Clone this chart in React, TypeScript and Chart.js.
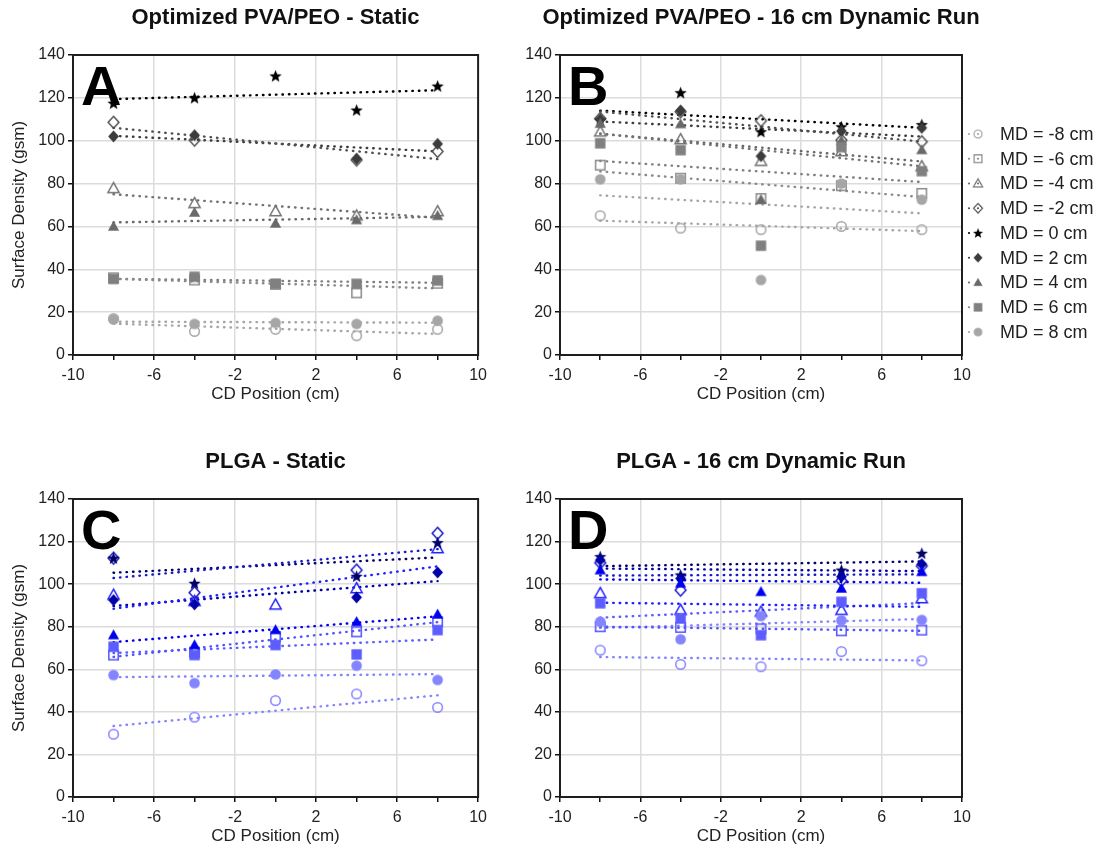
import React, { useEffect, useRef } from 'react';
import { Chart, registerables } from 'chart.js';
Chart.register(...registerables);

const FONT = '"Liberation Sans", Arial, Helvetica, sans-serif';

// ---------- shared categories / labels ----------
const CD_POSITIONS = [-8, -4, 0, 4, 8];
const MD_LABELS = ['MD = -8 cm', 'MD = -6 cm', 'MD = -4 cm', 'MD = -2 cm', 'MD = 0 cm', 'MD = 2 cm', 'MD = 4 cm', 'MD = 6 cm', 'MD = 8 cm'];
const X_LABELED_TICKS = [-10, -6, -2, 2, 6, 10];
const X_GRID_TICKS = [-6, -2, 2, 6];
const Y_TICK_STEP = 20;
const X_TITLE = 'CD Position (cm)';
const Y_TITLE = 'Surface Density (gsm)';
const MARKER_SHAPES = ['circle', 'square', 'triangle', 'diamond', 'star', 'diamond', 'triangle', 'square', 'circle'];
const MARKER_FILLED = [false, false, false, false, true, true, true, true, true];
const GRAY_COLORS = ['#a6a6a6', '#8a8a8a', '#727272', '#505050', '#000000', '#3c3c3c', '#696969', '#808080', '#a6a6a6'];
const BLUE_COLORS = ['#8484ff', '#5252ff', '#1f1fff', '#1818c8', '#000066', '#0000a8', '#0000f0', '#5c5cff', '#8484ff'];

// ---------- Panel A: Optimized PVA/PEO - Static ----------
const pvaStatic_m8 = [17, 11, 12, 9, 12];
const pvaStatic_m6 = [36, 35, 33, 29, 33.5];
const pvaStatic_m4 = [77.8, 70.8, 67, 65, 67];
const pvaStatic_m2 = [108.6, 100.3, null, 91, 95];
const pvaStatic_0 = [117.5, 120, 130.2, 114.3, 125.5];
const pvaStatic_p2 = [102, 102.6, null, 91.5, 98.5];
const pvaStatic_p4 = [60, 66.5, 61.4, 63, 65];
const pvaStatic_p6 = [35.5, 36.5, 33.2, 33.2, 34.8];
const pvaStatic_p8 = [16.6, 14.5, 15, 14.5, 16];

// ---------- Panel B: Optimized PVA/PEO - 16 cm Dynamic Run ----------
const pvaDyn_m8 = [65, 59.2, 58.5, 60, 58.5];
const pvaDyn_m6 = [88.6, 82.5, 73, 79, 75.4];
const pvaDyn_m4 = [104.2, 100.6, 90.5, 95, 88];
const pvaDyn_m2 = [110.4, 113.5, 109.3, 100.3, 99.5];
const pvaDyn_0 = [109.6, 122.4, 104.2, 106.5, 107.5];
const pvaDyn_p2 = [110, 114, 92.8, 104.5, 106];
const pvaDyn_p4 = [108, 107.8, 72.5, 100, 95.7];
const pvaDyn_p6 = [98.8, 95.6, 51, 97, 85.8];
const pvaDyn_p8 = [82, 82, 35, 80, 72.5];

// ---------- Panel C: PLGA - Static ----------
const plgaStatic_m8 = [29.5, 37.5, 45.3, 48.4, 42.1];
const plgaStatic_m6 = [66.7, 68, 75.4, 77.6, 82.3];
const plgaStatic_m4 = [94.9, 92, 90.3, 98, 116.8];
const plgaStatic_m2 = [112.2, 96, null, 106.6, 123.9];
const plgaStatic_0 = [112.2, 100.4, null, 103.7, 119.5];
const plgaStatic_p2 = [92.5, 90.5, null, 93.8, 105.5];
const plgaStatic_p4 = [76.1, 71.4, 78.5, 82.3, 85.8];
const plgaStatic_p6 = [70.6, 66.7, 71.4, 67, 78.4];
const plgaStatic_p8 = [57.3, 53.5, 57.6, 61.7, 55];

// ---------- Panel D: PLGA - 16 cm Dynamic Run ----------
const plgaDyn_m8 = [69, 62.3, 61.2, 68.3, 64];
const plgaDyn_m6 = [80, 79.7, 79, 78.1, 78.4];
const plgaDyn_m4 = [95.7, 87.8, 87, 87.8, 93.3];
const plgaDyn_m2 = [110, 97.2, null, 101.6, 108.5];
const plgaDyn_0 = [112.9, 104.3, null, 106.6, 114.5];
const plgaDyn_p2 = [111.3, 102.7, null, 103.5, 109.4];
const plgaDyn_p4 = [106.6, 100.4, 96.4, 98, 105.8];
const plgaDyn_p6 = [91, 84, 76, 91.7, 95.7];
const plgaDyn_p8 = [82.4, 74.1, 85, 83, 83.2];

const PANEL_A = [pvaStatic_m8, pvaStatic_m6, pvaStatic_m4, pvaStatic_m2, pvaStatic_0, pvaStatic_p2, pvaStatic_p4, pvaStatic_p6, pvaStatic_p8];
const PANEL_B = [pvaDyn_m8, pvaDyn_m6, pvaDyn_m4, pvaDyn_m2, pvaDyn_0, pvaDyn_p2, pvaDyn_p4, pvaDyn_p6, pvaDyn_p8];
const PANEL_C = [plgaStatic_m8, plgaStatic_m6, plgaStatic_m4, plgaStatic_m2, plgaStatic_0, plgaStatic_p2, plgaStatic_p4, plgaStatic_p6, plgaStatic_p8];
const PANEL_D = [plgaDyn_m8, plgaDyn_m6, plgaDyn_m4, plgaDyn_m2, plgaDyn_0, plgaDyn_p2, plgaDyn_p4, plgaDyn_p6, plgaDyn_p8];

// ---------- helpers ----------
function makeMarker(shape: string, color: string, filled: boolean, k = 1): HTMLCanvasElement {
  const s = Math.ceil(17 * k);
  const c = document.createElement('canvas');
  c.width = s;
  c.height = s;
  const ctx = c.getContext('2d')!;
  const cx = s / 2;
  const cy = s / 2;
  ctx.beginPath();
  if (shape === 'circle') {
    ctx.arc(cx, cy, (filled ? 5.3 : 4.8) * k, 0, Math.PI * 2);
  } else if (shape === 'square') {
    const h = (filled ? 5.2 : 4.7) * k;
    ctx.rect(cx - h, cy - h, 2 * h, 2 * h);
  } else if (shape === 'triangle') {
    ctx.moveTo(cx, cy - 5.8 * k);
    ctx.lineTo(cx + 5.6 * k, cy + 4.2 * k);
    ctx.lineTo(cx - 5.6 * k, cy + 4.2 * k);
    ctx.closePath();
  } else if (shape === 'diamond') {
    ctx.moveTo(cx, cy - 6 * k);
    ctx.lineTo(cx + 5.4 * k, cy);
    ctx.lineTo(cx, cy + 6 * k);
    ctx.lineTo(cx - 5.4 * k, cy);
    ctx.closePath();
  } else if (shape === 'star') {
    for (let i = 0; i < 10; i++) {
      const r = (i % 2 === 0 ? 6.5 : 2.8) * k;
      const a = -Math.PI / 2 + (i * Math.PI) / 5;
      const px = cx + r * Math.cos(a);
      const py = cy + 0.5 + r * Math.sin(a);
      if (i === 0) ctx.moveTo(px, py);
      else ctx.lineTo(px, py);
    }
    ctx.closePath();
  }
  if (filled) {
    ctx.fillStyle = color;
    ctx.fill();
  } else {
    ctx.lineWidth = 1.5 * k;
    ctx.strokeStyle = color;
    ctx.stroke();
  }
  return c;
}

function trendLine(ys: (number | null)[]) {
  const pts = CD_POSITIONS.map((x, i) => [x, ys[i]] as [number, number | null]).filter((p) => p[1] != null) as [number, number][];
  const n = pts.length;
  const mx = pts.reduce((a, p) => a + p[0], 0) / n;
  const my = pts.reduce((a, p) => a + p[1], 0) / n;
  let sxy = 0;
  let sxx = 0;
  pts.forEach((p) => {
    sxy += (p[0] - mx) * (p[1] - my);
    sxx += (p[0] - mx) * (p[0] - mx);
  });
  const b = sxx ? sxy / sxx : 0;
  const x0 = CD_POSITIONS[0];
  const x1 = CD_POSITIONS[CD_POSITIONS.length - 1];
  return [
    { x: x0, y: my + b * (x0 - mx) },
    { x: x1, y: my + b * (x1 - mx) },
  ];
}

type PanelCfg = {
  series: (number | null)[][];
  colors: string[];
  title: string;
  letter: string;
  yTitle: boolean;
  legend: boolean;
  left: number;
  top: number;
  width: number;
  height: number;
  padding: { left: number; right: number; top: number; bottom: number };
  yAxisWidth: number;
  titleY: number;
  legendX?: number;
  legendY?: number;
};

const decoPlugin = {
  id: 'deco',
  afterDraw(chart: any, _args: any, opts: any) {
    const ctx = chart.ctx as CanvasRenderingContext2D;
    const { left, top, right, bottom } = chart.chartArea;
    ctx.save();
    ctx.strokeStyle = '#1e1e1e';
    ctx.lineWidth = 2;
    ctx.strokeRect(left, top, right - left, bottom - top);

    ctx.fillStyle = '#000';
    ctx.textAlign = 'left';
    ctx.textBaseline = 'alphabetic';
    ctx.font = `bold 56px ${FONT}`;
    ctx.fillText(opts.letter, left + 8, top + 50);

    ctx.font = `bold 22px ${FONT}`;
    ctx.textAlign = 'center';
    ctx.textBaseline = 'middle';
    ctx.fillStyle = '#111';
    ctx.fillText(opts.title, (left + right) / 2, opts.titleY);

    if (opts.legend) {
      const markers: HTMLCanvasElement[] = opts.markers;
      ctx.font = `18px ${FONT}`;
      ctx.textAlign = 'left';
      ctx.textBaseline = 'middle';
      MD_LABELS.forEach((lab, i) => {
        const y = opts.legendY + i * 24.75;
        const x = opts.legendX;
        ctx.fillStyle = opts.colors[i];
        ctx.beginPath();
        ctx.arc(x - 9, y, 1.1, 0, Math.PI * 2);
        ctx.fill();
        ctx.beginPath();
        ctx.arc(x, y, 1.1, 0, Math.PI * 2);
        ctx.fill();
        const m = markers[i];
        const sc = 0.82;
        ctx.drawImage(m, x - (m.width * sc) / 2, y - (m.height * sc) / 2, m.width * sc, m.height * sc);
        ctx.fillStyle = '#222';
        ctx.fillText(lab, x + 22, y + 1);
      });
    }
    ctx.restore();
  },
};

function Panel({ cfg }: { cfg: PanelCfg }) {
  const ref = useRef<HTMLCanvasElement>(null);
  useEffect(() => {
    if (!ref.current) return;
    const markers = cfg.series.map((_, i) => makeMarker(MARKER_SHAPES[i], cfg.colors[i], MARKER_FILLED[i]));
    const datasets: any[] = [];
    cfg.series.forEach((ys, i) => {
      datasets.push({
        type: 'scatter',
        label: MD_LABELS[i],
        data: CD_POSITIONS.map((x, j) => ({ x, y: ys[j] })).filter((p) => p.y != null),
        pointStyle: markers[i],
        pointRadius: 6,
        showLine: false,
        order: 10 - i,
      });
    });
    cfg.series.forEach((ys, i) => {
      datasets.push({
        type: 'scatter',
        label: MD_LABELS[i] + ' fit',
        data: trendLine(ys),
        showLine: true,
        pointRadius: 0,
        borderColor: cfg.colors[i],
        borderWidth: 2.4,
        borderDash: [0.5, 6],
        borderCapStyle: 'round',
        fill: false,
        order: 100 + i,
      });
    });

    const tickFont = { family: FONT, size: 16 };
    const chart = new Chart(ref.current, {
      type: 'scatter',
      data: { datasets },
      options: {
        animation: false,
        responsive: false,
        devicePixelRatio: 1,
        events: [],
        layout: { padding: cfg.padding },
        plugins: {
          legend: { display: false },
          tooltip: { enabled: false },
          deco: {
            letter: cfg.letter,
            title: cfg.title,
            titleY: cfg.titleY,
            legend: cfg.legend,
            legendX: cfg.legendX,
            legendY: cfg.legendY,
            colors: cfg.colors,
            markers,
          },
        } as any,
        scales: {
          x: {
            type: 'linear',
            min: -10,
            max: 10,
            ticks: {
              stepSize: 2,
              autoSkip: false,
              maxRotation: 0,
              padding: 6,
              color: '#222',
              font: tickFont,
              callback: (v: any) => (X_LABELED_TICKS.includes(Number(v)) ? String(v) : ''),
            },
            grid: {
              color: (c: any) => (c.tick && X_GRID_TICKS.includes(c.tick.value) ? '#dcdcdc' : 'rgba(0,0,0,0)'),
              lineWidth: 1.5,
              tickColor: '#111',
              tickLength: 5,
            },
            border: { display: true, color: '#111', width: 2 },
            title: { display: true, text: X_TITLE, color: '#222', font: { family: FONT, size: 17 }, padding: 4 },
            afterFit: (s: any) => {
              s.height = 54;
            },
          },
          y: {
            type: 'linear',
            min: 0,
            max: 140,
            ticks: { stepSize: Y_TICK_STEP, padding: 3, color: '#222', font: tickFont },
            grid: {
              color: (c: any) => (c.tick && c.tick.value > 0 && c.tick.value < 140 ? '#dcdcdc' : 'rgba(0,0,0,0)'),
              lineWidth: 1.5,
              tickColor: '#111',
              tickLength: 5,
            },
            border: { display: true, color: '#111', width: 2 },
            title: { display: cfg.yTitle, text: Y_TITLE, color: '#222', font: { family: FONT, size: 17 }, padding: 4 },
            afterFit: (s: any) => {
              s.width = cfg.yAxisWidth;
            },
          },
        },
      } as any,
      plugins: [decoPlugin],
    });
    return () => chart.destroy();
  }, [cfg]);

  return (
    <div style={{ position: 'absolute', left: cfg.left, top: cfg.top, width: cfg.width, height: cfg.height }}>
      <canvas ref={ref} width={cfg.width} height={cfg.height} style={{ width: cfg.width, height: cfg.height, display: 'block' }} />
    </div>
  );
}

const PANELS: PanelCfg[] = [
  {
    series: PANEL_A, colors: GRAY_COLORS, title: 'Optimized PVA/PEO - Static', letter: 'A', yTitle: true, legend: false,
    left: 0, top: 0, width: 493, height: 410, padding: { left: 5, right: 9, top: 55, bottom: 1 }, yAxisWidth: 68, titleY: 18,
  },
  {
    series: PANEL_B, colors: GRAY_COLORS, title: 'Optimized PVA/PEO - 16 cm Dynamic Run', letter: 'B', yTitle: false, legend: true,
    left: 490, top: 0, width: 617, height: 410, padding: { left: 30, right: 145, top: 55, bottom: 1 }, yAxisWidth: 40, titleY: 18,
    legendX: 488, legendY: 134,
  },
  {
    series: PANEL_C, colors: BLUE_COLORS, title: 'PLGA - Static', letter: 'C', yTitle: true, legend: false,
    left: 0, top: 430, width: 493, height: 422, padding: { left: 5, right: 9, top: 69, bottom: 1 }, yAxisWidth: 68, titleY: 32,
  },
  {
    series: PANEL_D, colors: BLUE_COLORS, title: 'PLGA - 16 cm Dynamic Run', letter: 'D', yTitle: false, legend: false,
    left: 490, top: 430, width: 617, height: 422, padding: { left: 30, right: 145, top: 69, bottom: 1 }, yAxisWidth: 40, titleY: 32,
  },
];

export default function App() {
  return (
    <div style={{ position: 'absolute', left: 0, top: 0, width: 1107, height: 852, background: '#fff', overflow: 'hidden' }}>
      {PANELS.map((p) => (
        <Panel key={p.letter} cfg={p} />
      ))}
    </div>
  );
}
